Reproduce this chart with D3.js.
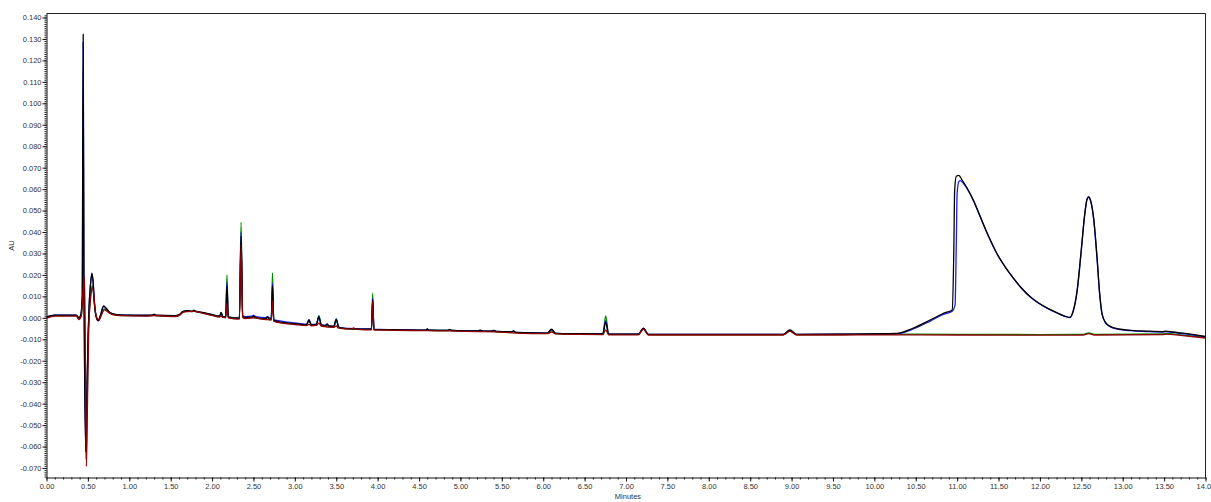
<!DOCTYPE html>
<html>
<head>
<meta charset="utf-8">
<script src="https://cdn.jsdelivr.net/npm/d3@7"></script>
<style>
  body { margin: 0; background: #fff; }
  text { font-family: "Liberation Sans", Arial, sans-serif; }
</style>
</head>
<body>
<svg id="chart"></svg>
<script>
// ===================== DATA (minutes, AU) =====================
const xTicks = [0.00,0.50,1.00,1.50,2.00,2.50,3.00,3.50,4.00,4.50,5.00,5.50,6.00,6.50,7.00,7.50,8.00,8.50,9.00,9.50,10.00,10.50,11.00,11.50,12.00,12.50,13.00,13.50,14.00];
const yTicks = [-0.070,-0.060,-0.050,-0.040,-0.030,-0.020,-0.010,0.000,0.010,0.020,0.030,0.040,0.050,0.060,0.070,0.080,0.090,0.100,0.110,0.120,0.130,0.140];

const black = [
[0.00,0.0003],[0.05,0.0010],[0.10,0.0013],[0.36,0.0013],[0.39,0.0001],[0.415,0.0015],[0.432,0.010],[0.443,0.1322],[0.452,0.020],[0.462,-0.030],[0.474,-0.0625],[0.488,-0.035],[0.503,-0.008],[0.515,0.006],[0.530,0.015],[0.548,0.0208],[0.562,0.017],[0.580,0.006],[0.600,0.0005],[0.625,-0.0013],[0.650,0.0010],[0.690,0.0056],[0.720,0.0045],[0.770,0.0023],[0.850,0.0015],[0.950,0.0013],
[1.20,0.0012],[1.28,0.0013],[1.30,0.0017],[1.32,0.0012],[1.55,0.0010],[1.60,0.0014],[1.65,0.0030],[1.70,0.0033],[1.76,0.0031],[1.78,0.0036],[1.80,0.0031],[1.90,0.0024],[2.00,0.0015],[2.09,0.0008],[2.11,0.0025],[2.13,0.0006],[2.165,0.0004],[2.18,0.0150],[2.195,0.0004],[2.33,-0.0002],[2.35,0.0380],[2.37,0.0008],[2.40,0.0002],[2.48,0.0003],[2.50,0.0008],[2.52,0.0002],[2.65,-0.0004],[2.67,0.0004],[2.69,-0.0005],[2.715,-0.0006],[2.73,0.0150],[2.745,-0.0012],[2.85,-0.0021],[3.00,-0.0027],[3.14,-0.0032],[3.17,-0.0010],[3.20,-0.0033],[3.26,-0.0030],[3.29,0.0004],[3.32,-0.0034],[3.37,-0.0036],[3.39,-0.0029],[3.41,-0.0038],[3.47,-0.0040],[3.50,-0.0008],[3.53,-0.0044],[3.60,-0.0049],[3.70,-0.0051],[3.85,-0.0053],[3.925,-0.0053],[3.94,0.0085],[3.955,-0.0054],[4.20,-0.0055],[4.58,-0.0057],[4.60,-0.0052],[4.62,-0.0057],[4.85,-0.0058],[4.87,-0.0054],[4.89,-0.0058],[5.20,-0.0061],[5.24,-0.0057],[5.27,-0.0062],[5.38,-0.0062],[5.40,-0.0058],[5.43,-0.0063],[5.62,-0.0065],[5.64,-0.0061],[5.67,-0.0068],[6.05,-0.0071],[6.10,-0.0053],[6.15,-0.0072],[6.40,-0.0074],[6.72,-0.0075],[6.755,-0.0020],[6.79,-0.0076],[7.15,-0.0076],[7.21,-0.0048],[7.27,-0.0077],[8.00,-0.0077],[8.90,-0.0077],[8.98,-0.0056],[9.06,-0.0077],[9.60,-0.0076],[10.27,-0.0073],
[10.47,-0.0048],[10.68,-0.0009],[10.84,0.0022],[10.94,0.0037],[10.96,0.0316],[10.97,0.0595],[10.99,0.0660],[11.02,0.0664],[11.06,0.0642],[11.12,0.0605],[11.20,0.0545],[11.28,0.0471],[11.38,0.0380],[11.48,0.0300],[11.58,0.0238],[11.68,0.0185],[11.78,0.0138],[11.88,0.0099],[11.98,0.0070],[12.09,0.0045],[12.20,0.0025],[12.30,0.0008],[12.36,0.0002],[12.40,0.0030],[12.45,0.0130],[12.50,0.0320],[12.54,0.0480],[12.57,0.0555],[12.59,0.0565],[12.61,0.0550],[12.65,0.0460],[12.69,0.0280],[12.72,0.0120],[12.75,0.0020],[12.79,-0.0020],[12.85,-0.0040],[12.95,-0.0052],[13.10,-0.0058],[13.30,-0.0062],[13.48,-0.0064],[13.52,-0.0062],[13.60,-0.0066],[13.80,-0.0075],[14.00,-0.0087]
];

const blue = [
[0.00,0.0002],[0.05,0.0009],[0.10,0.0012],[0.36,0.0012],[0.39,0.0000],[0.415,0.0015],[0.432,0.010],[0.442,0.1285],[0.452,0.018],[0.462,-0.030],[0.475,-0.0615],[0.489,-0.034],[0.504,-0.007],[0.516,0.006],[0.531,0.015],[0.549,0.0205],[0.563,0.017],[0.581,0.006],[0.601,0.0005],[0.626,-0.0014],[0.651,0.0010],[0.691,0.0054],[0.721,0.0044],[0.771,0.0022],[0.850,0.0014],[0.950,0.0012],
[1.20,0.0011],[1.28,0.0012],[1.30,0.0015],[1.32,0.0011],[1.55,0.0009],[1.60,0.0013],[1.65,0.0029],[1.70,0.0032],[1.76,0.0030],[1.78,0.0034],[1.80,0.0030],[1.90,0.0023],[2.00,0.0014],[2.09,0.0007],[2.11,0.0018],[2.13,0.0005],[2.165,0.0003],[2.18,0.0165],[2.195,0.0003],[2.33,-0.0002],[2.35,0.0400],[2.37,0.0010],[2.40,0.0006],[2.48,0.0008],[2.50,0.0012],[2.52,0.0007],[2.65,0.0001],[2.67,0.0006],[2.69,0.0000],[2.715,-0.0002],[2.73,0.0160],[2.745,-0.0008],[2.85,-0.0016],[3.00,-0.0024],[3.14,-0.0030],[3.17,-0.0008],[3.20,-0.0031],[3.26,-0.0029],[3.29,0.0007],[3.32,-0.0033],[3.37,-0.0035],[3.39,-0.0028],[3.41,-0.0037],[3.47,-0.0039],[3.50,-0.0006],[3.53,-0.0043],[3.60,-0.0048],[3.70,-0.0050],[3.85,-0.0052],[3.925,-0.0052],[3.94,0.0090],[3.955,-0.0053],[4.20,-0.0055],[4.58,-0.0057],[4.60,-0.0053],[4.62,-0.0057],[4.85,-0.0058],[4.87,-0.0055],[4.89,-0.0058],[5.20,-0.0061],[5.24,-0.0058],[5.27,-0.0062],[5.38,-0.0062],[5.40,-0.0059],[5.43,-0.0063],[5.62,-0.0065],[5.64,-0.0062],[5.67,-0.0068],[6.05,-0.0071],[6.10,-0.0055],[6.15,-0.0072],[6.40,-0.0074],[6.72,-0.0075],[6.755,-0.0013],[6.79,-0.0076],[7.15,-0.0076],[7.21,-0.0049],[7.27,-0.0077],[8.00,-0.0077],[8.90,-0.0077],[8.98,-0.0058],[9.06,-0.0077],[9.60,-0.0076],[10.27,-0.0074],
[10.47,-0.0052],[10.68,-0.0014],[10.84,0.0017],[10.94,0.0031],[10.975,0.0060],[10.99,0.0350],[11.00,0.0580],[11.02,0.0635],[11.04,0.0640],[11.08,0.0625],[11.12,0.0602],[11.20,0.0544],[11.28,0.0470],[11.38,0.0379],[11.48,0.0299],[11.58,0.0237],[11.68,0.0184],[11.78,0.0137],[11.88,0.0098],[11.98,0.0069],[12.09,0.0044],[12.20,0.0024],[12.30,0.0007],[12.36,0.0001],[12.40,0.0027],[12.45,0.0125],[12.50,0.0315],[12.54,0.0476],[12.57,0.0553],[12.59,0.0562],[12.61,0.0548],[12.65,0.0458],[12.69,0.0278],[12.72,0.0118],[12.75,0.0018],[12.79,-0.0022],[12.85,-0.0042],[12.95,-0.0054],[13.10,-0.0060],[13.30,-0.0064],[13.48,-0.0066],[13.52,-0.0064],[13.60,-0.0068],[13.80,-0.0077],[14.00,-0.0089]
];

const green = [
[0.00,0.0001],[0.05,0.0007],[0.10,0.0010],[0.36,0.0010],[0.39,-0.0004],[0.42,0.0012],[0.438,0.008],[0.452,0.0150],[0.466,-0.020],[0.479,-0.0660],[0.492,-0.038],[0.507,-0.006],[0.528,0.008],[0.552,0.0150],[0.566,0.012],[0.586,0.004],[0.610,-0.0004],[0.632,-0.0012],[0.657,0.0010],[0.697,0.0042],[0.737,0.0032],[0.800,0.0016],[0.900,0.0011],
[1.20,0.0010],[1.28,0.0011],[1.30,0.0014],[1.32,0.0010],[1.55,0.0008],[1.60,0.0012],[1.65,0.0028],[1.70,0.0031],[1.76,0.0029],[1.78,0.0033],[1.80,0.0029],[1.90,0.0022],[2.00,0.0013],[2.09,0.0006],[2.11,0.0024],[2.13,0.0004],[2.165,0.0002],[2.18,0.0200],[2.195,0.0002],[2.33,-0.0004],[2.35,0.0445],[2.37,0.0005],[2.40,0.0000],[2.48,0.0001],[2.50,0.0006],[2.52,0.0000],[2.65,-0.0006],[2.67,0.0002],[2.69,-0.0007],[2.715,-0.0008],[2.73,0.0210],[2.745,-0.0014],[2.85,-0.0023],[3.00,-0.0029],[3.14,-0.0034],[3.17,-0.0014],[3.20,-0.0035],[3.26,-0.0032],[3.29,0.0010],[3.32,-0.0036],[3.37,-0.0038],[3.39,-0.0031],[3.41,-0.0040],[3.47,-0.0042],[3.50,-0.0005],[3.53,-0.0046],[3.60,-0.0050],[3.70,-0.0052],[3.85,-0.0054],[3.925,-0.0054],[3.94,0.0115],[3.955,-0.0055],[4.20,-0.0056],[4.58,-0.0058],[4.60,-0.0054],[4.62,-0.0058],[4.85,-0.0059],[4.87,-0.0055],[4.89,-0.0059],[5.20,-0.0062],[5.24,-0.0059],[5.27,-0.0063],[5.38,-0.0063],[5.40,-0.0060],[5.43,-0.0064],[5.62,-0.0066],[5.64,-0.0063],[5.67,-0.0069],[6.05,-0.0072],[6.10,-0.0058],[6.15,-0.0073],[6.40,-0.0075],[6.72,-0.0076],[6.755,0.0009],[6.79,-0.0077],[7.15,-0.0077],[7.21,-0.0050],[7.27,-0.0078],[8.00,-0.0078],[8.90,-0.0078],[8.98,-0.0062],[9.06,-0.0078],[9.60,-0.0077],[10.27,-0.0076],
[11.00,-0.0077],[12.00,-0.0078],[12.52,-0.0077],[12.59,-0.0070],[12.66,-0.0077],[13.48,-0.0075],[13.53,-0.0073],[13.70,-0.0079],[14.00,-0.0091]
];

const red = [
[0.00,-0.0001],[0.05,0.0005],[0.10,0.0008],[0.36,0.0008],[0.39,-0.0008],[0.42,0.0010],[0.440,0.0120],[0.460,0.0190],[0.470,-0.020],[0.482,-0.0692],[0.495,-0.040],[0.510,-0.005],[0.530,0.008],[0.555,0.0140],[0.570,0.011],[0.590,0.003],[0.615,-0.0005],[0.635,-0.0010],[0.660,0.0010],[0.700,0.0037],[0.740,0.0028],[0.800,0.0015],[0.900,0.0010],
[1.20,0.0008],[1.30,0.0011],[1.55,0.0006],[1.60,0.0010],[1.65,0.0026],[1.70,0.0029],[1.78,0.0030],[1.90,0.0020],[2.00,0.0011],[2.09,0.0004],[2.11,0.0008],[2.13,0.0002],[2.165,0.0000],[2.18,0.0070],[2.195,0.0000],[2.33,-0.0006],[2.35,0.0340],[2.37,0.0002],[2.40,-0.0003],[2.50,0.0000],[2.65,-0.0008],[2.715,-0.0010],[2.73,0.0080],[2.745,-0.0016],[2.85,-0.0025],[3.00,-0.0031],[3.14,-0.0036],[3.17,-0.0030],[3.20,-0.0037],[3.26,-0.0035],[3.29,-0.0025],[3.32,-0.0038],[3.47,-0.0044],[3.50,-0.0038],[3.53,-0.0048],[3.68,-0.0053],[3.71,-0.0047],[3.74,-0.0054],[3.85,-0.0056],[3.925,-0.0056],[3.94,0.0076],[3.955,-0.0057],[4.20,-0.0058],[4.60,-0.0060],[4.85,-0.0061],[5.20,-0.0064],[5.40,-0.0065],[5.67,-0.0071],[6.05,-0.0074],[6.10,-0.0066],[6.15,-0.0075],[6.40,-0.0077],[6.72,-0.0078],[6.755,-0.0056],[6.79,-0.0079],[7.15,-0.0079],[7.21,-0.0052],[7.27,-0.0080],[8.00,-0.0080],[8.90,-0.0080],[8.98,-0.0062],[9.06,-0.0080],[9.60,-0.0080],[10.27,-0.0079],
[11.00,-0.0080],[12.00,-0.0081],[12.52,-0.0080],[12.59,-0.0074],[12.66,-0.0080],[13.48,-0.0078],[13.53,-0.0076],[13.70,-0.0082],[14.00,-0.0094]
];
// ==============================================================

var W = 1211, H = 502;
var mLeft = 46.5, mRight = 1205.5, mTop = 13.5, mBottom = 477.5;

const svg = d3.select("#chart").attr("width", W).attr("height", H);

const xs = d3.scaleLinear().domain([0, 14]).range([mLeft, mRight]);
const ys = d3.scaleLinear().domain([-0.07442, 0.14186]).range([mBottom, mTop]);

// frame (top + right)
svg.append("path")
    .attr("d", "M" + mLeft + "," + mTop + "H" + mRight + "V" + mBottom)
    .attr("fill", "none")
    .attr("stroke", "#222")
    .attr("stroke-width", 1);

// ================== AXES ==================
const yMinor = d3.range(-74, 142).map(d => d / 1000);
const xMinor = d3.range(0, 141).map(d => d / 10);

svg.append("g")
    .attr("transform", "translate(" + mLeft + ",0)")
    .call(d3.axisLeft(ys).tickValues(yMinor).tickSize(2).tickFormat(""))
    .call(g => g.select(".domain").remove());

svg.append("g")
    .attr("transform", "translate(" + mLeft + ",0)")
    .call(d3.axisLeft(ys).tickValues(yTicks).tickSize(4).tickSizeOuter(0).tickPadding(1).tickFormat(d => d.toFixed(3)));

svg.append("g")
    .attr("transform", "translate(0," + mBottom + ")")
    .call(d3.axisBottom(xs).tickValues(xMinor).tickSize(2).tickFormat(""))
    .call(g => g.select(".domain").remove());

svg.append("g")
    .attr("transform", "translate(0," + mBottom + ")")
    .call(d3.axisBottom(xs).tickValues(xTicks).tickSize(4).tickSizeOuter(0).tickPadding(2).tickFormat(d => d.toFixed(2)));

svg.selectAll(".tick line").attr("stroke", "#111");
svg.selectAll(".domain").attr("stroke", "#111");
svg.selectAll(".tick text")
    .attr("font-size", "7.5px")
    .attr("fill", "#333")
    .style("font-family", "'Liberation Sans', Arial, sans-serif");

svg.append("text")
    .attr("transform", "translate(14," + ((mTop + mBottom) / 2) + ") rotate(-90)")
    .attr("text-anchor", "middle")
    .attr("font-size", "7.5px")
    .attr("fill", "#333")
    .text("AU");

svg.append("text")
    .attr("x", (mLeft + mRight) / 2 + 2)
    .attr("y", 499)
    .attr("text-anchor", "middle")
    .attr("font-size", "7.5px")
    .attr("fill", "#333")
    .text("Minutes");

// ================== TRACES ==================
const line = d3.line()
    .x(d => xs(d[0]))
    .y(d => ys(d[1]))
    .curve(d3.curveMonotoneX);

// drawing order: black sits over blue, red on top of the peaks' bases
const traces = [
    {data: green, color: "#008a00"},
    {data: blue,  color: "#1c1cf0"},
    {data: black, color: "#000000"},
    {data: red,   color: "#8e0000"}
];

svg.append("g")
    .selectAll("path")
    .data(traces)
    .join("path")
    .attr("fill", "none")
    .attr("stroke", d => d.color)
    .attr("stroke-width", 1.3)
    .attr("stroke-linejoin", "round")
    .attr("d", d => line(d.data));
</script>
</body>
</html>
